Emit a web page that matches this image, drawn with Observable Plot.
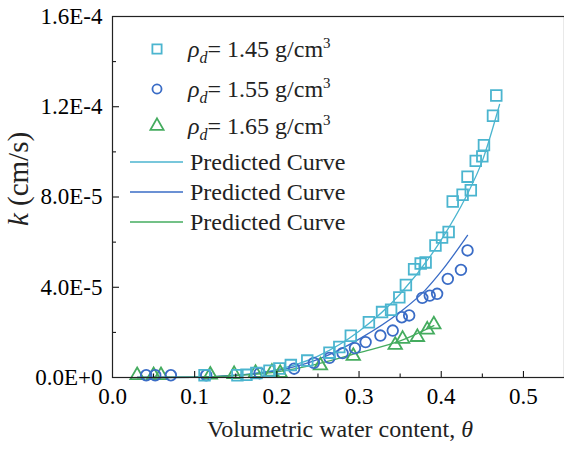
<!DOCTYPE html>
<html>
<head>
<meta charset="utf-8">
<script src="https://cdn.jsdelivr.net/npm/d3@7"></script>
<script src="https://cdn.jsdelivr.net/npm/@observablehq/plot@0.6"></script>
<style>
  html, body { margin: 0; padding: 0; background: #fff; }
  svg { display: block; }
</style>
</head>
<body>
<div id="chart"></div>
<script>
// ---- data ----
const seriesNames = ["1.45", "1.55", "1.65"];
const seriesColors = ["#4bb5cf", "#3a6cc6", "#45ac5f"];

const theta145 = [0.112, 0.152, 0.163, 0.175, 0.191, 0.203, 0.217, 0.237, 0.264, 0.276, 0.290, 0.312, 0.328, 0.339, 0.349, 0.357, 0.367, 0.375, 0.381, 0.393, 0.401, 0.409, 0.414, 0.426, 0.432, 0.436, 0.442, 0.450, 0.452, 0.463, 0.467];
const k145     = [0.1e-5, 0.1e-5, 0.12e-5, 0.2e-5, 0.3e-5, 0.4e-5, 0.55e-5, 0.75e-5, 1.1e-5, 1.35e-5, 1.85e-5, 2.45e-5, 2.9e-5, 3.0e-5, 3.55e-5, 4.1e-5, 4.8e-5, 5.05e-5, 5.1e-5, 5.85e-5, 6.2e-5, 6.45e-5, 7.8e-5, 8.1e-5, 8.9e-5, 8.3e-5, 9.6e-5, 9.8e-5, 10.3e-5, 11.6e-5, 12.5e-5];

const theta155 = [0.041, 0.052, 0.071, 0.114, 0.179, 0.221, 0.245, 0.264, 0.280, 0.295, 0.308, 0.326, 0.341, 0.352, 0.361, 0.377, 0.386, 0.395, 0.408, 0.424, 0.432];
const k155     = [0.1e-5, 0.1e-5, 0.1e-5, 0.1e-5, 0.19e-5, 0.39e-5, 0.65e-5, 0.87e-5, 1.08e-5, 1.30e-5, 1.57e-5, 1.86e-5, 2.08e-5, 2.67e-5, 2.75e-5, 3.53e-5, 3.63e-5, 3.71e-5, 4.37e-5, 4.77e-5, 5.63e-5];

const theta165 = [0.030, 0.050, 0.059, 0.119, 0.148, 0.174, 0.194, 0.204, 0.253, 0.293, 0.344, 0.353, 0.371, 0.383, 0.391];
const k165     = [0.1e-5, 0.1e-5, 0.1e-5, 0.12e-5, 0.15e-5, 0.2e-5, 0.25e-5, 0.2e-5, 0.53e-5, 0.95e-5, 1.44e-5, 1.71e-5, 1.79e-5, 2.12e-5, 2.35e-5];

// predicted curves
const curveTheta145 = [0.03, 0.10, 0.15, 0.20, 0.25, 0.30, 0.35, 0.40, 0.43, 0.45, 0.471];
const curveK145     = [0, 0.01e-5, 0.1e-5, 0.35e-5, 0.95e-5, 2.05e-5, 3.7e-5, 6.1e-5, 8.0e-5, 9.6e-5, 12.1e-5];
const curveTheta155 = [0.03, 0.10, 0.15, 0.20, 0.25, 0.30, 0.35, 0.38, 0.40, 0.432];
const curveK155     = [0, 0.01e-5, 0.1e-5, 0.3e-5, 0.8e-5, 1.7e-5, 2.9e-5, 3.85e-5, 4.7e-5, 6.3e-5];
const curveTheta165 = [0.03, 0.10, 0.15, 0.20, 0.25, 0.30, 0.35, 0.391];
const curveK165     = [0, 0.01e-5, 0.08e-5, 0.25e-5, 0.6e-5, 1.1e-5, 1.62e-5, 2.3e-5];

const xTicks = [0, 0.1, 0.2, 0.3, 0.4, 0.5];
const xMinorTicks = [0.05, 0.15, 0.25, 0.35, 0.45];
const yTicks = [0, 4e-5, 8e-5, 1.2e-4, 1.6e-4];
const yMinorTicks = [2e-5, 6e-5, 10e-5, 14e-5];

// ---- build tables ----
const zip = (xs, ys, s) => xs.map((x, i) => ({theta: x, k: ys[i], s}));
const pts145 = zip(theta145, k145, seriesNames[0]);
const pts155 = zip(theta155, k155, seriesNames[1]);
const pts165 = zip(theta165, k165, seriesNames[2]);
const cur145 = zip(curveTheta145, curveK145, seriesNames[0]);
const cur155 = zip(curveTheta155, curveK155, seriesNames[1]);
const cur165 = zip(curveTheta165, curveK165, seriesNames[2]);

const FONT = "Liberation Serif, Times New Roman, serif";
const yFmt = d => d === 0 ? "0.0E+0" : d.toExponential(1).replace("e", "E");

const plot = Plot.plot({
  width: 564,
  height: 449,
  marginLeft: 112,
  marginRight: 0,
  marginTop: 16,
  marginBottom: 72,
  style: {fontFamily: FONT, fontSize: "23px"},
  x: {domain: [0, 0.55]},
  y: {domain: [0, 1.6e-4]},
  marks: [
    // curves
    Plot.line(cur145, {x: "theta", y: "k", stroke: seriesColors[0], strokeWidth: 1.3, curve: "monotone-x"}),
    Plot.line(cur155, {x: "theta", y: "k", stroke: seriesColors[1], strokeWidth: 1.3, curve: "monotone-x"}),
    Plot.line(cur165, {x: "theta", y: "k", stroke: seriesColors[2], strokeWidth: 1.3, curve: "monotone-x"}),
    // markers
    Plot.dot(pts165, {x: "theta", y: "k", symbol: "triangle", r: 5, stroke: seriesColors[2], strokeWidth: 1.8, fill: "none"}),
    Plot.dot(pts155, {x: "theta", y: "k", symbol: "circle", r: 5.3, stroke: seriesColors[1], strokeWidth: 1.8, fill: "none"}),
    Plot.dot(pts145, {x: "theta", y: "k", symbol: "square", r: 6, stroke: seriesColors[0], strokeWidth: 1.8, fill: "none"}),
    // axes: labels
    Plot.axisX({ticks: xTicks, tickSize: 0, tickPadding: 10, tickFormat: d => d.toFixed(1), label: null, fontSize: 23, fontFamily: FONT}),
    Plot.axisY({ticks: yTicks, tickSize: 0, tickPadding: 10, tickFormat: yFmt, label: null, fontSize: 23, fontFamily: FONT}),
    // inward ticks
    Plot.axisX({ticks: xTicks, tickSize: -6, text: null, label: null}),
    Plot.axisX({ticks: xMinorTicks, tickSize: -3.5, text: null, label: null}),
    Plot.axisY({ticks: yTicks, tickSize: -7, text: null, label: null}),
    Plot.axisY({ticks: yMinorTicks, tickSize: -4, text: null, label: null}),
    Plot.frame({stroke: "#222", strokeWidth: 1.2})
  ]
});

document.getElementById("chart").appendChild(plot);

const svg = d3.select(plot);

// ---- axis titles and legend (rich text) ----
const xl = svg.append("text")
  .attr("x", 340).attr("y", 437)
  .attr("text-anchor", "middle")
  .style("font-family", FONT).style("font-size", "24px").attr("fill", "#222");
xl.append("tspan").text("Volumetric water content, ");
xl.append("tspan").attr("font-style", "italic").text("θ");

const yl = svg.append("text")
  .attr("transform", "translate(28,179) rotate(-90)")
  .attr("text-anchor", "middle")
  .style("font-family", FONT).style("font-size", "29px").attr("fill", "#222");
yl.append("tspan").attr("font-style", "italic").text("k");
yl.append("tspan").text(" (cm/s)");

const lg = svg.append("g").style("font-family", FONT).attr("fill", "#222").attr("text-anchor", "start");
const markerRows = [49, 89, 126];
const symbols = [d3.symbolSquare, d3.symbolCircle, d3.symbolTriangle];
const symSizes = [85, 65, 75];
seriesNames.forEach((name, i) => {
  lg.append("path")
    .attr("d", d3.symbol(symbols[i], symSizes[i])())
    .attr("transform", `translate(157,${markerRows[i]})`)
    .attr("fill", "none").attr("stroke", seriesColors[i]).attr("stroke-width", 1.8);
  const t = lg.append("text").attr("x", 188).attr("y", markerRows[i] + 8).style("font-size", "24px");
  t.append("tspan").attr("font-style", "italic").text("ρ");
  t.append("tspan").attr("font-style", "italic").attr("dy", 6).style("font-size", "16px").text("d");
  t.append("tspan").attr("dy", -6).text("= " + name + " g/cm");
  t.append("tspan").attr("dy", -9).style("font-size", "15px").text("3");
});
const lineRows = [162, 192, 222];
seriesNames.forEach((name, i) => {
  lg.append("line")
    .attr("x1", 130).attr("x2", 183).attr("y1", lineRows[i]).attr("y2", lineRows[i])
    .attr("stroke", seriesColors[i]).attr("stroke-width", 1.5);
  lg.append("text").attr("x", 190).attr("y", lineRows[i] + 8).style("font-size", "24px").text("Predicted Curve");
});
</script>
</body>
</html>
